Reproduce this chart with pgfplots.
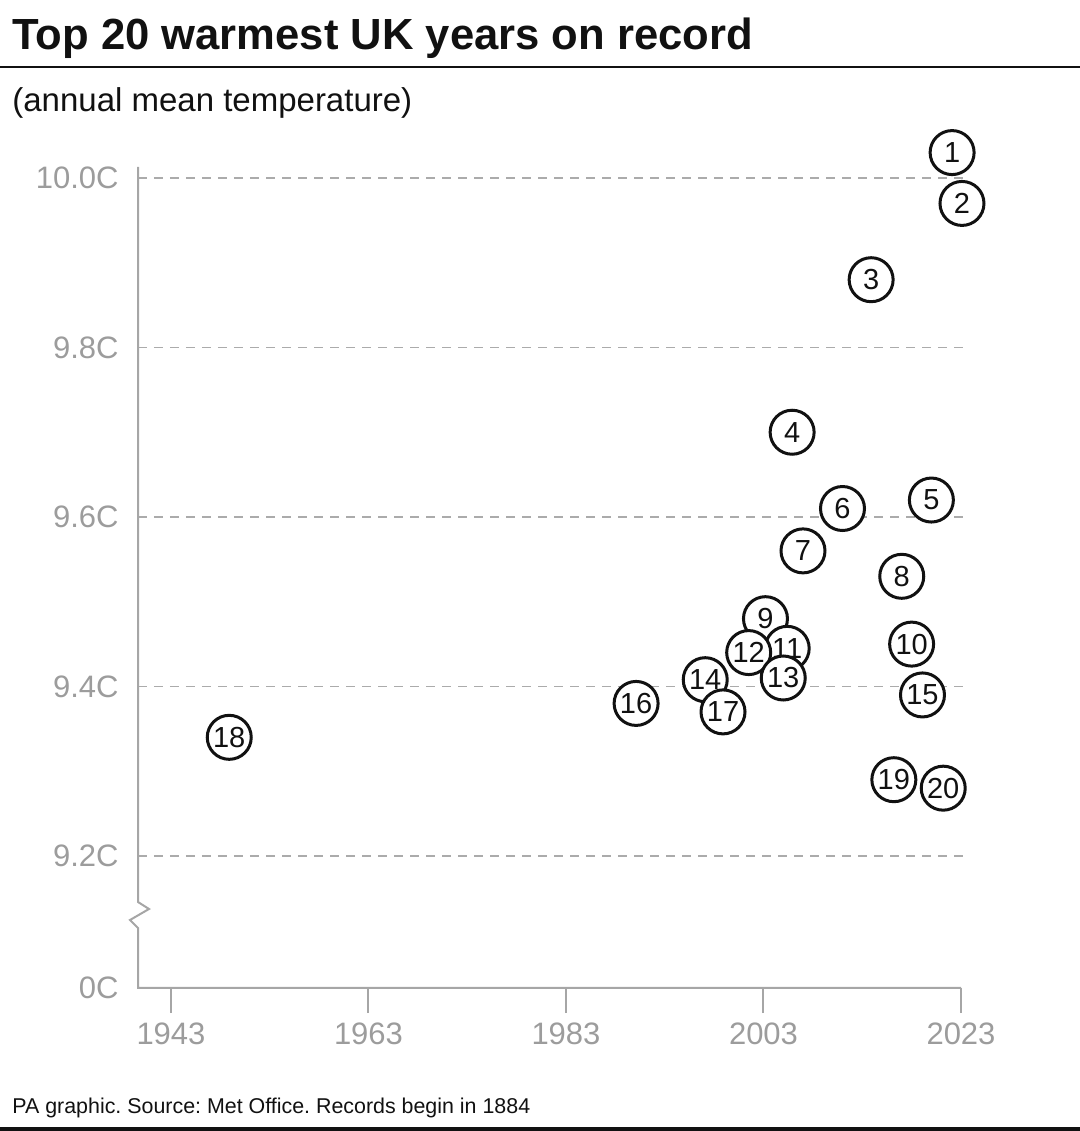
\documentclass[border=0pt]{standalone}
\usepackage{pgfplots}
\pgfplotsset{compat=1.18}
\usepackage{fontspec}
\setmainfont{Liberation Sans}
\definecolor{tickgray}{HTML}{9C9C9C}
\definecolor{axgray}{HTML}{A6A6A6}
\definecolor{gridgray}{HTML}{ABABAB}
\definecolor{ink}{HTML}{111111}
\begin{document}
\frenchspacing
\begin{tikzpicture}
\useasboundingbox (0,0) rectangle (540pt,565.5pt);
\begin{axis}[
  at={(69pt,71.5pt)}, anchor=south west,
  scale only axis, width=414.95pt, height=410.5pt,
  xmin=1939.66, xmax=2023.7, ymin=9.0442, ymax=10.013,
  clip=false,
  axis line style={draw=none},
  xtick pos=lower, ytick pos=left,
  xtick={1943,1963,1983,2003,2023},
  xticklabels={1943,1963,1983,2003,2023},
  tick align=outside,
  major tick length=12.5pt,
  xtick style={draw=axgray, line width=1pt},
  ytick={9.2,9.4,9.6,9.8,10.0},
  yticklabels={9.2C,9.4C,9.6C,9.8C,10.0C},
  ytick style={draw=none},
  extra y ticks={9.0442}, extra y tick labels={0C},
  extra y tick style={grid=none, ytick style={draw=none}},
  ymajorgrids,
  major grid style={gridgray, line width=0.75pt, dash pattern=on 4.5pt off 3.5pt},
  tick label style={font=\fontsize{15.5}{18}\selectfont, text=tickgray},
  yticklabel style={inner sep=0pt, xshift=3pt},
  xticklabel style={inner sep=0pt, yshift=-4.5pt},
]
\addplot[draw=none, mark=none, point meta=explicit symbolic,
  nodes near coords, nodes near coords align={center},
  every node near coord/.append style={circle, draw=ink, line width=1.5pt, fill=white,
    minimum size=22pt, inner sep=0pt, anchor=center, text=ink,
    font=\fontsize{14.5}{15}\selectfont}]
  table[x=x, y=y, meta=r] {
x y r
2022.1 10.03 1
2023.1 9.97 2
2013.9 9.88 3
2005.9 9.70 4
2020.0 9.62 5
2011.0 9.61 6
2007.0 9.56 7
2017.0 9.53 8
2003.2 9.48 9
2018.0 9.45 10
2005.4 9.445 11
2001.5 9.44 12
2005.0 9.41 13
1997.1 9.408 14
2019.1 9.39 15
1990.1 9.38 16
1998.9 9.37 17
1948.9 9.34 18
2016.2 9.29 19
2021.2 9.28 20
};
\end{axis}
\begin{scope}[x=0.5pt,y=0.5pt]
\node[anchor=base west, inner sep=0pt, font=\fontsize{21.8}{26}\selectfont\bfseries, text=ink] at (12,1081) {Top 20 warmest UK years on record};
\draw[ink, line width=1pt] (0,1064) -- (1080,1064);
\node[anchor=base west, inner sep=0pt, font=\fontsize{16.5}{20}\selectfont, text=ink] at (12,1019) {(annual mean temperature)};
\node[anchor=base west, inner sep=0pt, font=\fontsize{10.7}{13}\selectfont, text=ink] at (12,18) {PA graphic. Source: Met Office. Records begin in 1884};
\fill[ink] (0,0) rectangle (1080,4);
\draw[axgray, line width=1pt] (138,964) -- (138,229) -- (149,222) -- (130,211) -- (138,203) -- (138,143) -- (961,143);
\end{scope}
\end{tikzpicture}
\end{document}
